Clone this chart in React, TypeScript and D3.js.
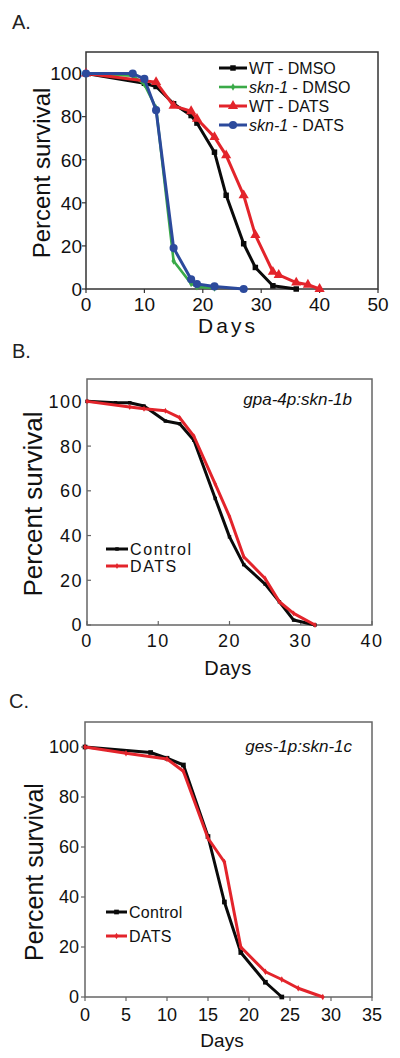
import React from "react";
import * as d3 from "d3";

// ---------- data ----------
const yTicks = [0, 20, 40, 60, 80, 100];
const aXTicks = [0, 10, 20, 30, 40, 50];
const bXTicks = [0, 10, 20, 30, 40];
const cXTicks = [0, 5, 10, 15, 20, 25, 30, 35];

// Panel A
const aWtDmsoDays = [0, 10, 12, 15, 18, 19, 22, 24, 27, 29, 32, 36];
const aWtDmsoSurv = [100, 95.5, 94, 86, 80.5, 77, 63.5, 43.5, 21, 10, 1.5, 0];
const aSknDmsoDays = [0, 8, 10, 12, 15, 18, 19, 22];
const aSknDmsoSurv = [100, 99, 95, 84, 13, 2.5, 1, 0.5];
const aWtDatsDays = [0, 12, 15, 18, 19, 22, 24, 27, 29, 32, 33, 36, 38, 40];
const aWtDatsSurv = [100, 96, 85, 82.5, 79, 70.5, 62, 43.5, 25, 8, 6.5, 3, 2, 0];
const aSknDatsDays = [0, 8, 10, 12, 15, 18, 19, 22, 27];
const aSknDatsSurv = [100, 100, 97.5, 83, 19, 4.5, 2.3, 1.2, 0];

// Panel B
const bControlDays = [0, 4, 6, 8, 11, 13, 15, 18, 20, 22, 25, 27, 29, 32];
const bControlSurv = [100, 99.4, 99.4, 97.9, 91.2, 90, 82.6, 56.6, 39.4, 27, 18.3, 10.4, 2.2, 0];
const bDatsDays = [0, 6, 8, 11, 13, 15, 18, 20, 22, 25, 27, 29, 32];
const bDatsSurv = [100, 97.5, 96.7, 95.8, 92.7, 84.4, 63, 48.5, 30.5, 20.8, 10.4, 5.2, 0];

// Panel C
const cControlDays = [0, 8, 10, 12, 15, 17, 19, 22, 24];
const cControlSurv = [100, 97.8, 95.5, 92.8, 64.2, 38, 17.8, 5.9, 0];
const cDatsDays = [0, 5, 10, 12, 15, 17, 19, 22, 24, 26, 29];
const cDatsSurv = [100, 97.5, 95.2, 90.3, 63.5, 54, 20, 10.1, 7, 3.5, 0];

// ---------- drawing ----------
const FONT = "'Liberation Sans', Arial, Helvetica, sans-serif";

type Series = {
  days: number[];
  surv: number[];
  color: string;
  width: number;
  symbol: d3.SymbolType;
  size: number;
};

type PanelProps = {
  label: string;
  labelPos: [number, number];
  x0: number;
  x1: number;
  yTop: number;
  yBot: number;
  xMax: number;
  xTicks: number[];
  series: Series[];
  frameColor: string;
  tickOut: boolean;
  tickFont: number;
  tickSpacing: number;
  yTickRight: number;
  xTickBaseline: number;
  daysX: number;
  daysY: number;
  daysFont: number;
  daysSpacing: number;
  ylabX: number;
  ylabY: number;
  ylabFont: number;
  children?: React.ReactNode;
};

function Panel(p: PanelProps) {
  const x = d3.scaleLinear().domain([0, p.xMax]).range([p.x0, p.x1]);
  const y = d3.scaleLinear().domain([0, 110]).range([p.yBot, p.yTop]);
  const line = d3
    .line<[number, number]>()
    .x((d) => x(d[0]))
    .y((d) => y(d[1]));
  const tl = 4;
  return (
    <g>
      <text x={p.labelPos[0]} y={p.labelPos[1]} fontSize={20} fontFamily={FONT} fill="#222">
        {p.label}
      </text>
      <rect
        x={p.x0}
        y={p.yTop}
        width={p.x1 - p.x0}
        height={p.yBot - p.yTop}
        fill="none"
        stroke={p.frameColor}
        strokeWidth={1.5}
      />
      {p.xTicks.map((t) => (
        <g key={"xt" + t}>
          <line
            x1={x(t)}
            x2={x(t)}
            y1={p.yBot}
            y2={p.tickOut ? p.yBot + tl : p.yBot - tl}
            stroke={p.frameColor}
            strokeWidth={1.2}
          />
          <text
            x={x(t)}
            y={p.xTickBaseline}
            textAnchor="middle"
            fontSize={p.tickFont}
            fontFamily={FONT}
            letterSpacing={p.tickSpacing}
            fill="#111"
          >
            {t}
          </text>
        </g>
      ))}
      {yTicks.map((t) => (
        <g key={"yt" + t}>
          <line
            x1={p.x0}
            x2={p.tickOut ? p.x0 - tl : p.x0 + tl}
            y1={y(t)}
            y2={y(t)}
            stroke={p.frameColor}
            strokeWidth={1.2}
          />
          <text
            x={p.yTickRight}
            y={y(t) + p.tickFont * 0.36}
            textAnchor="end"
            fontSize={p.tickFont}
            fontFamily={FONT}
            letterSpacing={p.tickSpacing}
            fill="#111"
          >
            {t}
          </text>
        </g>
      ))}
      <text
        x={p.daysX}
        y={p.daysY}
        textAnchor="middle"
        fontSize={p.daysFont}
        fontFamily={FONT}
        letterSpacing={p.daysSpacing}
        fill="#111"
      >
        Days
      </text>
      <text
        transform={`translate(${p.ylabX},${p.ylabY}) rotate(-90)`}
        textAnchor="middle"
        fontSize={p.ylabFont}
        fontFamily={FONT}
        fill="#111"
      >
        Percent survival
      </text>
      {p.series.map((s, i) => {
        const pts = s.days.map((d, j) => [d, s.surv[j]] as [number, number]);
        const sym = d3.symbol().type(s.symbol).size(s.size)();
        return (
          <g key={"s" + i}>
            <path d={line(pts) || ""} fill="none" stroke={s.color} strokeWidth={s.width} strokeLinejoin="round" />
            {pts.map((pt, j) => (
              <path key={j} d={sym || ""} transform={`translate(${x(pt[0])},${y(pt[1])})`} fill={s.color} />
            ))}
          </g>
        );
      })}
      {p.children}
    </g>
  );
}

function LegendItem(props: {
  x0: number;
  x1: number;
  yy: number;
  s: Series;
  font: number;
  spacing: number;
  children: React.ReactNode;
}) {
  const { x0, x1, yy, s } = props;
  const sym = d3.symbol().type(s.symbol).size(s.size)();
  return (
    <g>
      <line x1={x0} x2={x1} y1={yy} y2={yy} stroke={s.color} strokeWidth={s.width} />
      <path d={sym || ""} transform={`translate(${(x0 + x1) / 2},${yy})`} fill={s.color} />
      <text
        x={x1 + 2}
        y={yy + props.font * 0.36}
        fontSize={props.font}
        fontFamily={FONT}
        letterSpacing={props.spacing}
        fill="#111"
      >
        {props.children}
      </text>
    </g>
  );
}

export default function App() {
  const BLACK = "#0a0a0a";
  const GREEN = "#3aaa48";
  const RED = "#e3242b";
  const BLUE = "#2c4a9c";

  const aSeries: Series[] = [
    { days: aWtDmsoDays, surv: aWtDmsoSurv, color: BLACK, width: 3, symbol: d3.symbolSquare, size: 30 },
    { days: aSknDmsoDays, surv: aSknDmsoSurv, color: GREEN, width: 2.6, symbol: d3.symbolDiamond, size: 16 },
    { days: aWtDatsDays, surv: aWtDatsSurv, color: RED, width: 3, symbol: d3.symbolTriangle, size: 45 },
    { days: aSknDatsDays, surv: aSknDatsSurv, color: BLUE, width: 3, symbol: d3.symbolCircle, size: 52 },
  ];
  const bSeries: Series[] = [
    { days: bControlDays, surv: bControlSurv, color: BLACK, width: 3, symbol: d3.symbolSquare, size: 12 },
    { days: bDatsDays, surv: bDatsSurv, color: RED, width: 3, symbol: d3.symbolDiamond, size: 10 },
  ];
  const cSeries: Series[] = [
    { days: cControlDays, surv: cControlSurv, color: BLACK, width: 3, symbol: d3.symbolSquare, size: 22 },
    { days: cDatsDays, surv: cDatsSurv, color: RED, width: 3, symbol: d3.symbolDiamond, size: 12 },
  ];

  return (
    <div style={{ position: "absolute", left: 0, top: 0 }}>
      <svg width={400} height={1058} viewBox="0 0 400 1058" style={{ display: "block", background: "#fff" }}>
        <Panel
          label="A."
          labelPos={[12, 29]}
          x0={86}
          x1={378}
          yTop={52}
          yBot={289}
          xMax={50}
          xTicks={aXTicks}
          series={aSeries}
          frameColor="#333"
          tickOut={true}
          tickFont={19}
          tickSpacing={0}
          yTickRight={82}
          xTickBaseline={311}
          daysX={228}
          daysY={333}
          daysFont={21}
          daysSpacing={3}
          ylabX={50}
          ylabY={173}
          ylabFont={24}
        >
          <LegendItem x0={219} x1={247} yy={68} s={aSeries[0]} font={16} spacing={0}>
            WT - DMSO
          </LegendItem>
          <LegendItem x0={219} x1={247} yy={87} s={aSeries[1]} font={16} spacing={0}>
            <tspan fontStyle="italic">skn-1</tspan> - DMSO
          </LegendItem>
          <LegendItem x0={219} x1={247} yy={106} s={aSeries[2]} font={16} spacing={0}>
            WT - DATS
          </LegendItem>
          <LegendItem x0={219} x1={247} yy={125} s={aSeries[3]} font={16} spacing={0}>
            <tspan fontStyle="italic">skn-1</tspan> - DATS
          </LegendItem>
        </Panel>

        <Panel
          label="B."
          labelPos={[12, 358]}
          x0={87}
          x1={372}
          yTop={379}
          yBot={625}
          xMax={40}
          xTicks={bXTicks}
          series={bSeries}
          frameColor="#666"
          tickOut={false}
          tickFont={18}
          tickSpacing={1.5}
          yTickRight={83}
          xTickBaseline={647}
          daysX={228}
          daysY={675}
          daysFont={20}
          daysSpacing={0.5}
          ylabX={42}
          ylabY={504}
          ylabFont={26}
        >
          <text x={352} y={405} textAnchor="end" fontSize={17} fontStyle="italic" fontFamily={FONT} fill="#111">
            gpa-4p:skn-1b
          </text>
          <LegendItem x0={106} x1={128} yy={549} s={bSeries[0]} font={16} spacing={1.6}>
            Control
          </LegendItem>
          <LegendItem x0={106} x1={128} yy={566} s={bSeries[1]} font={16} spacing={1.6}>
            DATS
          </LegendItem>
        </Panel>

        <Panel
          label="C."
          labelPos={[9, 708]}
          x0={85}
          x1={372}
          yTop={722}
          yBot={997}
          xMax={35}
          xTicks={cXTicks}
          series={cSeries}
          frameColor="#666"
          tickOut={true}
          tickFont={18}
          tickSpacing={0}
          yTickRight={79}
          xTickBaseline={1021}
          daysX={222}
          daysY={1047}
          daysFont={19}
          daysSpacing={0}
          ylabX={43}
          ylabY={872}
          ylabFont={25}
        >
          <text x={352} y={752} textAnchor="end" fontSize={17} fontStyle="italic" fontFamily={FONT} fill="#111">
            ges-1p:skn-1c
          </text>
          <LegendItem x0={106} x1={127} yy={912} s={cSeries[0]} font={16} spacing={0.3}>
            Control
          </LegendItem>
          <LegendItem x0={106} x1={127} yy={936} s={cSeries[1]} font={16} spacing={0.3}>
            DATS
          </LegendItem>
        </Panel>
      </svg>
    </div>
  );
}
